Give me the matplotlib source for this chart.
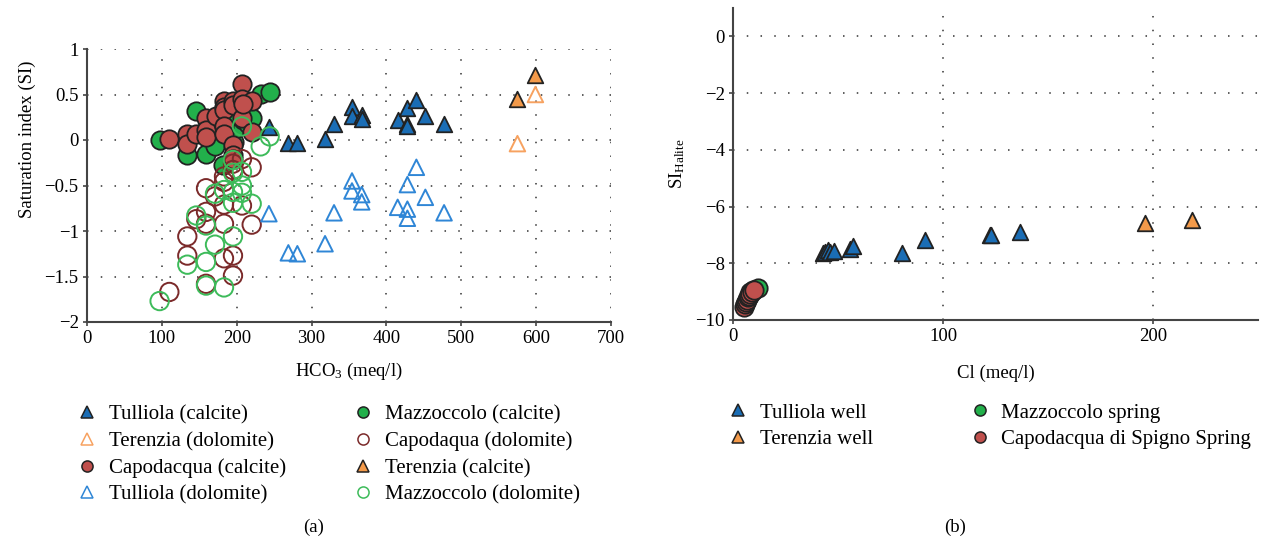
import matplotlib
matplotlib.use('Agg')
import matplotlib.pyplot as plt
from matplotlib.lines import Line2D

plt.rcParams['font.family'] = ['Liberation Serif', 'DejaVu Serif']
plt.rcParams['font.size'] = 13
plt.rcParams['mathtext.fontset'] = 'custom'
plt.rcParams['mathtext.rm'] = 'Liberation Serif'
plt.rcParams['mathtext.it'] = 'Liberation Serif:italic'

# ---- panel (a): saturation index vs HCO3 ----
tul_cal_x = [243, 269, 281, 318, 330, 354, 354, 367, 367, 415, 428, 428, 428, 440, 452, 477]
tul_cal_y = [0.14, -0.03, -0.03, 0.01, 0.18, 0.36, 0.26, 0.27, 0.23, 0.22, 0.35, 0.18, 0.15, 0.44, 0.26, 0.18]
tul_dol_x = [243, 269, 281, 318, 330, 354, 354, 367, 367, 415, 428, 428, 428, 440, 452, 477]
tul_dol_y = [-0.81, -1.24, -1.25, -1.14, -0.80, -0.45, -0.56, -0.60, -0.68, -0.74, -0.76, -0.86, -0.49, -0.30, -0.63, -0.80]
ter_cal_x = [599, 575]
ter_cal_y = [0.71, 0.45]
ter_dol_x = [599, 575]
ter_dol_y = [0.50, -0.04]
maz_cal_x = [97, 134, 146, 159, 171, 182, 196, 198, 208, 215, 220, 232, 244, 205, 190]
maz_cal_y = [0.0, -0.16, 0.32, -0.15, -0.07, -0.28, -0.02, 0.12, 0.22, 0.18, 0.24, 0.51, 0.53, 0.38, 0.25]
cap_cal_x = [110, 134, 134, 146, 159, 159, 159, 172, 183, 183, 183, 183, 183, 195, 195,
             195, 195, 195, 207, 207, 207, 220, 220, 208]
cap_cal_y = [0.01, 0.07, -0.04, 0.07, 0.24, 0.11, 0.03, 0.26, 0.43, 0.36, 0.33, 0.15, 0.07, 0.43, 0.38,
             -0.06, -0.16, -0.21, 0.61, 0.45, 0.24, 0.43, 0.09, 0.40]
cap_dol_x = [110, 134, 134, 146, 159, 159, 159, 159, 171, 183, 183, 183, 183, 195, 195,
             195, 195, 207, 207, 220, 220, 183]
cap_dol_y = [-1.67, -1.06, -1.27, -0.87, -0.53, -0.79, -0.92, -1.58, -0.62, -0.46, -0.71, -0.92, -1.30, -0.26, -0.33,
             -1.27, -1.49, -0.21, -0.72, -0.30, -0.93, -0.40]
maz_dol_x = [97, 134, 146, 159, 159, 159, 171, 171, 183, 183, 195, 195, 195, 195, 195,
             207, 207, 207, 220, 232, 244, 207]
maz_dol_y = [-1.77, -1.37, -0.83, -0.94, -1.34, -1.60, -0.59, -1.15, -0.55, -1.62, -0.57, -0.69, -1.06, -0.22, -0.36,
             -0.58, -0.50, -0.35, -0.70, -0.07, 0.04, 0.15]

# ---- panel (b): SI halite vs Cl ----
tul_well_x = [43, 44, 45, 46, 48, 55.5, 57, 80.7, 91.2, 122.5, 123, 136.8]
tul_well_y = [-7.65, -7.6, -7.52, -7.62, -7.58, -7.5, -7.4, -7.63, -7.18, -7.0, -7.02, -6.9]
ter_well_x = [196.0, 218.4]
ter_well_y = [-6.57, -6.49]
maz_spr_x = [8, 9.5, 12]
maz_spr_y = [-9.0, -8.95, -8.88]
cap_spr_x = [5, 5.5, 6, 6.5, 7, 7.5, 8, 9, 10]
cap_spr_y = [-9.55, -9.45, -9.35, -9.3, -9.2, -9.15, -9.1, -9.0, -8.95]

blue = '#1a6db5'
blue_open = '#2f86d6'
orange = '#f39a4a'
orange_open = '#f7a260'
green = '#22b04b'
green_open = '#3dbb5a'
red = '#c0504d'
red_open = '#7b2a2a'
edge = '#222222'

fig = plt.figure(figsize=(12.63, 5.45), dpi=100)
ax1 = fig.add_axes([87 / 1263, 1 - 322 / 545, 524 / 1263, 273 / 545])
ax2 = fig.add_axes([733 / 1263, 1 - 320 / 545, 525 / 1263, 312 / 545])

grid_kw = dict(color='#333333', linestyle=(0, (1, 8)), linewidth=1.1)

def style(ax):
    for s in ['top', 'right']:
        ax.spines[s].set_visible(False)
    for s in ['left', 'bottom']:
        ax.spines[s].set_color('#444444')
        ax.spines[s].set_linewidth(1.5)
    ax.tick_params(length=3, width=1.2, color='#444444', labelsize=13.5, pad=3)
    ax.grid(True, **grid_kw)
    ax.set_axisbelow(True)

s_c = 175
s_t = 125
ax1.scatter(maz_cal_x, maz_cal_y, s=s_c, marker='o', c=green, edgecolors=edge, linewidths=1.3, zorder=3)
ax1.scatter(cap_cal_x, cap_cal_y, s=s_c, marker='o', c=red, edgecolors=edge, linewidths=1.3, zorder=3)
ax1.scatter(tul_cal_x, tul_cal_y, s=s_t, marker='^', c=blue, edgecolors=edge, linewidths=1.3, zorder=3)
ax1.scatter(ter_cal_x, ter_cal_y, s=s_t, marker='^', c=orange, edgecolors=edge, linewidths=1.3, zorder=3)
ax1.scatter(cap_dol_x, cap_dol_y, s=s_c, marker='o', facecolors='none', edgecolors=red_open, linewidths=1.4, zorder=4)
ax1.scatter(maz_dol_x, maz_dol_y, s=s_c, marker='o', facecolors='none', edgecolors=green_open, linewidths=1.4, zorder=4)
ax1.scatter(tul_dol_x, tul_dol_y, s=s_t, marker='^', facecolors='none', edgecolors=blue_open, linewidths=1.4, zorder=4)
ax1.scatter(ter_dol_x, ter_dol_y, s=s_t, marker='^', facecolors='none', edgecolors=orange_open, linewidths=1.4, zorder=4)

ax1.set_xlim(0, 700)
ax1.set_ylim(-2, 1)
ax1.set_xticks(range(0, 701, 100))
ax1.set_yticks([-2, -1.5, -1, -0.5, 0, 0.5, 1])
ax1.set_yticklabels(['\u22122', '\u22121.5', '\u22121', '\u22120.5', '0', '0.5', '1'])
style(ax1)
ax1.set_xlabel('HCO$_{\\mathrm{3}}$ (meq/l)', fontsize=13.5, labelpad=10)
ax1.set_ylabel('Saturation index (SI)', fontsize=13.5)
ax1.yaxis.set_label_coords(-0.097, 0.67)

ax2.scatter(tul_well_x, tul_well_y, s=s_t, marker='^', c=blue, edgecolors=edge, linewidths=1.3, zorder=3)
ax2.scatter(ter_well_x, ter_well_y, s=s_t, marker='^', c=orange, edgecolors=edge, linewidths=1.3, zorder=3)
ax2.scatter(maz_spr_x, maz_spr_y, s=s_c, marker='o', c=green, edgecolors=edge, linewidths=1.3, zorder=3)
ax2.scatter(cap_spr_x, cap_spr_y, s=s_c, marker='o', c=red, edgecolors=edge, linewidths=1.3, zorder=3)
ax2.set_xlim(0, 250)
ax2.set_ylim(-10, 1)
ax2.set_xticks([0, 100, 200])
ax2.set_yticks([-10, -8, -6, -4, -2, 0])
style(ax2)
ax2.set_xlabel('Cl (meq/l)', fontsize=13.5, labelpad=14)
ax2.set_ylabel('SI$_{\\mathrm{Halite}}$', fontsize=13.5, labelpad=6)

def h(marker, fc, ec, ms=8):
    return Line2D([], [], linestyle='none', marker=marker, markersize=ms,
                  markerfacecolor=fc, markeredgecolor=ec, markeredgewidth=1.1)

labels_a = ['Tulliola (calcite)', 'Terenzia (dolomite)', 'Capodacqua (calcite)', 'Tulliola (dolomite)',
            'Mazzoccolo (calcite)', 'Capodaqua (dolomite)', 'Terenzia (calcite)', 'Mazzoccolo (dolomite)']
handles_a = [h('^', blue, edge), h('^', 'none', orange_open), h('o', red, edge), h('^', 'none', blue_open),
             h('o', green, edge), h('o', 'none', red_open), h('^', orange, edge), h('o', 'none', green_open)]
fig.legend(handles_a, labels_a, ncol=2, loc='upper left', bbox_to_anchor=(79 / 1263, 1 - 405 / 545),
           frameon=False, fontsize=15, handlelength=0.8, handletextpad=0.65, columnspacing=3.3,
           labelspacing=0.34, borderaxespad=0, borderpad=0)

labels_b = ['Tulliola well', 'Terenzia well', 'Mazzoccolo spring', 'Capodacqua di Spigno Spring']
handles_b = [h('^', blue, edge), h('^', orange, edge), h('o', green, edge), h('o', red, edge)]
fig.legend(handles_b, labels_b, ncol=2, loc='upper left', bbox_to_anchor=(730 / 1263, 1 - 403 / 545),
           frameon=False, fontsize=15, handlelength=0.8, handletextpad=0.65, columnspacing=4.7,
           labelspacing=0.34, borderaxespad=0, borderpad=0)

fig.text(314 / 1263, 1 - 527 / 545, '(a)', ha='center', va='center', fontsize=13.5)
fig.text(955 / 1263, 1 - 527 / 545, '(b)', ha='center', va='center', fontsize=13.5)

fig.savefig('out.png', dpi=100)
